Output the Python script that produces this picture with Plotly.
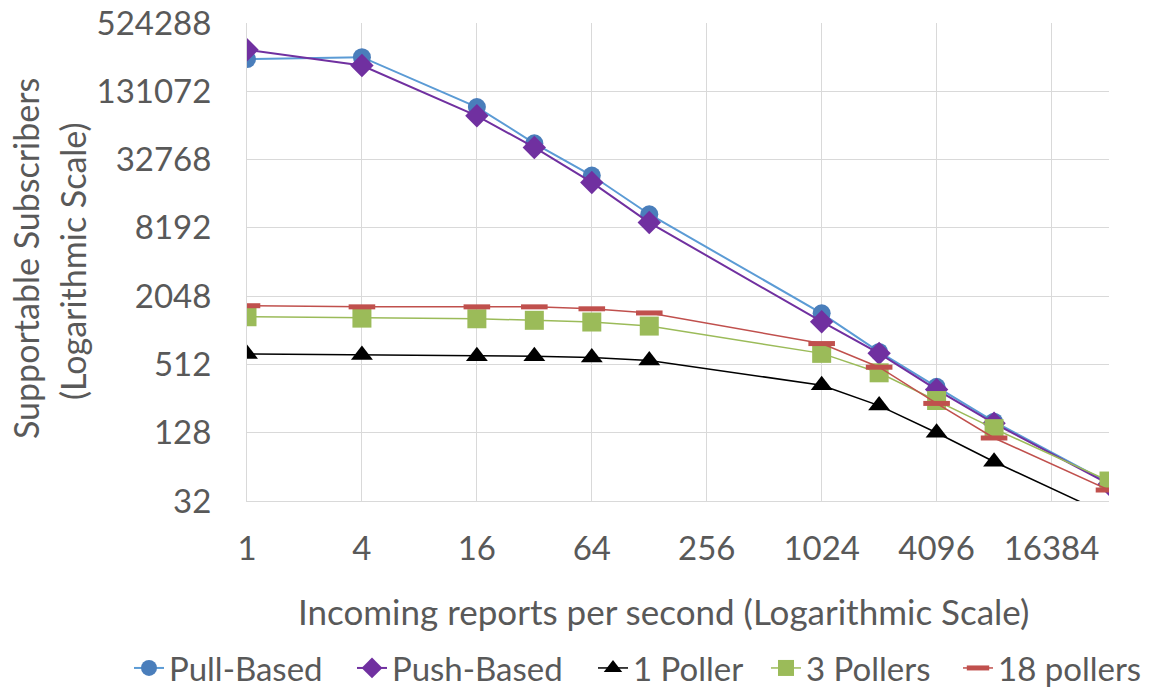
import plotly.graph_objects as go

# ---- data ----
reports = [1, 4, 16, 32, 64, 128, 1024, 2048, 4096, 8192, 32768]
pull_based = [252000, 262000, 95200, 45600, 23700, 10800, 1445, 660, 325, 160, 46]
push_based = [304800, 221000, 79700, 41900, 20600, 9120, 1219, 641, 307, 155, 45]
one_poller = [634, 620, 605, 605, 588, 555, 336, 222, 128, 71, 24]
three_pollers = [1348, 1311, 1294, 1254, 1211, 1115, 641, 432, 246, 139, 48]
eighteen_pollers = [1686, 1648, 1648, 1648, 1584, 1456, 782, 484, 232, 115, 40]

x_ticks = [1, 4, 16, 64, 256, 1024, 4096, 16384]
y_ticks = [32, 128, 512, 2048, 8192, 32768, 131072, 524288]
series_names = ["Pull-Based", "Push-Based", "1 Poller", "3 Pollers", "18 pollers"]

FONT = "Lato, 'Open Sans', sans-serif"
TXT = "#595959"
GRID = "#D9D9D9"

# page body margin is removed (see post_script), so the figure starts at (0, 0)
W, H = 1157, 688
PLOT_L, PLOT_R, PLOT_T, PLOT_B = 247, 1109, 23, 501   # page pixels
L, T = PLOT_L, PLOT_T
R, B = W - PLOT_R, H - PLOT_B
PW, PH = PLOT_R - PLOT_L, PLOT_B - PLOT_T


def px_to_paper_x(px):
    return (px - PLOT_L) / PW


def px_to_paper_y(py):
    return (PLOT_B - py) / PH


fig = go.Figure()

styles = [
    dict(series=pull_based, line=dict(color="#5B9BD5", width=2),
         marker=dict(symbol="circle", size=18, color="#4A7EBB")),
    dict(series=push_based, line=dict(color="#7030A0", width=2),
         marker=dict(symbol="diamond", size=18, color="#7030A0")),
    dict(series=one_poller, line=dict(color="#000000", width=1.5),
         marker=dict(symbol="triangle-up", size=19, color="#000000")),
    dict(series=three_pollers, line=dict(color="#9BBB59", width=1.5),
         marker=dict(symbol="square", size=19, color="#9BBB59")),
    dict(series=eighteen_pollers, line=dict(color="#C0504D", width=1.5),
         marker=dict(symbol="line-ew", size=19, color="#C0504D",
                     line=dict(color="#C0504D", width=5))),
]

legend_marker_px = [150, 373, 614, 787, 979]
legend_keys = ["legend", "legend2", "legend3", "legend4", "legend5"]

for name, st, lk in zip(series_names, styles, legend_keys):
    fig.add_trace(go.Scatter(
        x=reports, y=st["series"], name=name, mode="lines+markers",
        line=st["line"], marker=st["marker"], legend=lk,
    ))

axis_common = dict(
    showgrid=True, gridcolor=GRID, gridwidth=1,
    showline=True, linecolor=GRID, linewidth=1,
    zeroline=False, ticks="", ticklabeloverflow="allow",
    tickfont=dict(family=FONT, size=33, color=TXT),
)

fig.update_xaxes(
    type="log", range=[0, 4.515450], tickmode="array",
    tickvals=x_ticks, ticktext=[str(v) for v in x_ticks],
    ticklabelstandoff=18, **axis_common,
)
fig.update_yaxes(
    type="log", range=[1.505150, 5.719570], tickmode="array",
    tickvals=y_ticks, ticktext=[str(v) for v in y_ticks],
    ticklabelstandoff=28, **axis_common,
)

legend_layouts = {}
for lk, mpx in zip(legend_keys, legend_marker_px):
    legend_layouts[lk] = dict(
        orientation="h", x=px_to_paper_x(mpx - 21), xanchor="left",
        y=px_to_paper_y(668), yanchor="middle",
        bgcolor="rgba(0,0,0,0)", borderwidth=0,
        font=dict(family=FONT, size=33, color=TXT),
        itemwidth=30,
    )

fig.update_layout(
    width=W, height=H, autosize=False,
    margin=dict(l=L, r=R, t=T, b=B, pad=0, autoexpand=False),
    paper_bgcolor="white", plot_bgcolor="white",
    showlegend=True,
    **legend_layouts,
    annotations=[
        dict(text="Incoming reports per second (Logarithmic Scale)",
             xref="paper", yref="paper",
             x=px_to_paper_x(663), y=px_to_paper_y(611),
             xanchor="center", yanchor="middle", showarrow=False,
             font=dict(family=FONT, size=35, color=TXT)),
        dict(text="Supportable Subscribers", textangle=-90,
             xref="paper", yref="paper",
             x=px_to_paper_x(25), y=px_to_paper_y(259),
             xanchor="center", yanchor="middle", showarrow=False,
             font=dict(family=FONT, size=34, color=TXT)),
        dict(text="(Logarithmic Scale)", textangle=-90,
             xref="paper", yref="paper",
             x=px_to_paper_x(72), y=px_to_paper_y(261),
             xanchor="center", yanchor="middle", showarrow=False,
             font=dict(family=FONT, size=34, color=TXT)),
    ],
)

fig.write_html(
    "out.html",
    config={"displayModeBar": False},
    post_script="document.body.style.margin='0px';",
)
